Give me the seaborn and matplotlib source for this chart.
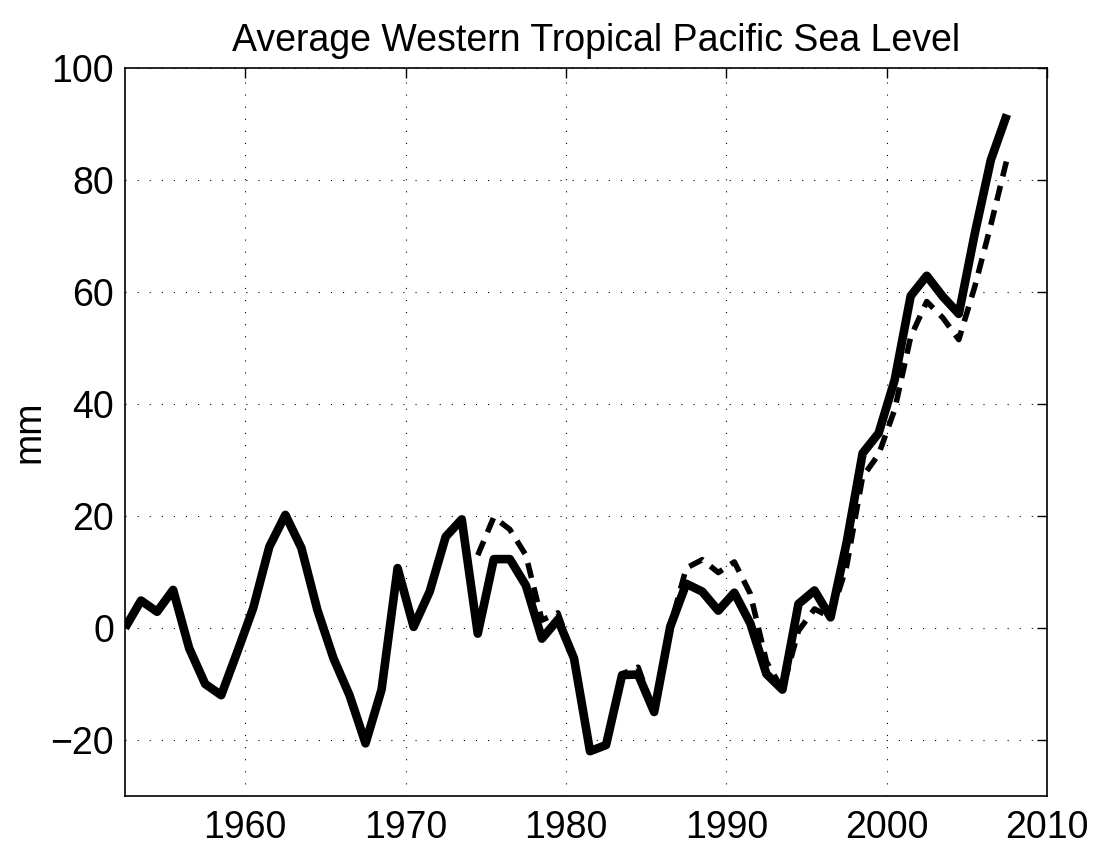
import numpy as np
import pandas as pd
import matplotlib
matplotlib.use("Agg")
import matplotlib.pyplot as plt
import seaborn as sns

# ---- data (annual means, plotted at mid-year) ----
years_solid = list(range(1952, 2008))
sea_level_solid = [
    0.0, 4.9, 2.9, 6.8, -3.6, -10.0, -12.0, -4.3, 3.6, 14.5,
    20.2, 14.3, 3.2, -5.4, -12.0, -20.6, -11.0, 10.7, 0.2, 6.5,
    16.3, 19.4, -1.0, 12.3, 12.3, 7.6, -1.9, 1.5, -5.4, -22.0,
    -20.9, -8.4, -8.3, -15.0, 0.2, 7.9, 6.5, 3.1, 6.3, 0.8,
    -8.2, -11.0, 4.3, 6.7, 1.9, 15.2, 31.2, 34.8, 44.3, 59.3,
    62.9, 59.2, 56.1, 70.5, 83.6, 91.7,
]

years_dashed = list(range(1974, 2008))
sea_level_dashed = [
    13.0, 19.8, 17.6, 13.0, 1.4, 2.7, -5.4, -22.0, -20.9, -8.2,
    -7.0, -15.0, 0.2, 10.7, 12.2, 9.9, 11.8, 6.1, -6.0, -11.0,
    -0.5, 3.4, 1.9, 11.0, 27.0, 31.0, 39.0, 52.0, 58.3, 55.4,
    51.5, 61.0, 72.0, 83.7,
]

x_ticks = [1960, 1970, 1980, 1990, 2000, 2010]
y_ticks = [-20, 0, 20, 40, 60, 80, 100]
title_text = "Average Western Tropical Pacific Sea Level"
y_label = "mm"

df_solid = pd.DataFrame({"year": np.array(years_solid) + 0.5, "mm": sea_level_solid})
df_dashed = pd.DataFrame({"year": np.array(years_dashed) + 0.5, "mm": sea_level_dashed})

sns.set_theme(style="white")
plt.rcParams["font.family"] = ["Liberation Sans", "DejaVu Sans"]
plt.rcParams["lines.scale_dashes"] = False
plt.rcParams["text.color"] = "black"

fig = plt.figure(figsize=(10.99, 8.48), dpi=100)
ax = fig.add_axes([125 / 1099, 1 - 796 / 848, (1047 - 125) / 1099, (796 - 68) / 848])

sns.lineplot(data=df_dashed, x="year", y="mm", ax=ax, color="black",
             linewidth=4.0, dashes=False, zorder=3)
ax.lines[-1].set_dashes((11, 7))
ax.lines[-1].set_dash_capstyle("butt")

sns.lineplot(data=df_solid, x="year", y="mm", ax=ax, color="black",
             linewidth=6.2, zorder=4)
ax.lines[-1].set_solid_joinstyle("round")
ax.lines[-1].set_solid_capstyle("butt")

ax.set_xlim(1952.5, 2010)
ax.set_ylim(-30, 100)
ax.set_xticks(x_ticks)
ax.set_yticks(y_ticks)
ax.set_yticklabels(["\u221220" if v < 0 else str(v) for v in y_ticks])

ax.grid(True, color="black", linewidth=0.8, linestyle=(0, (0.8, 7.9)))
ax.set_axisbelow(True)

for s in ax.spines.values():
    s.set_color("black")
    s.set_linewidth(1.2)
    s.set_visible(True)

ax.tick_params(direction="in", top=True, right=True, length=7, width=1.0,
               colors="black", labelsize=27)
ax.tick_params(axis="x", pad=10)
ax.tick_params(axis="y", pad=8)

ax.set_xlabel("")
ax.set_ylabel(y_label, fontsize=27, labelpad=2, color="black")
ax.set_title(title_text, fontsize=27, pad=12, color="black", x=0.511)

fig.savefig("out.png", dpi=100)
